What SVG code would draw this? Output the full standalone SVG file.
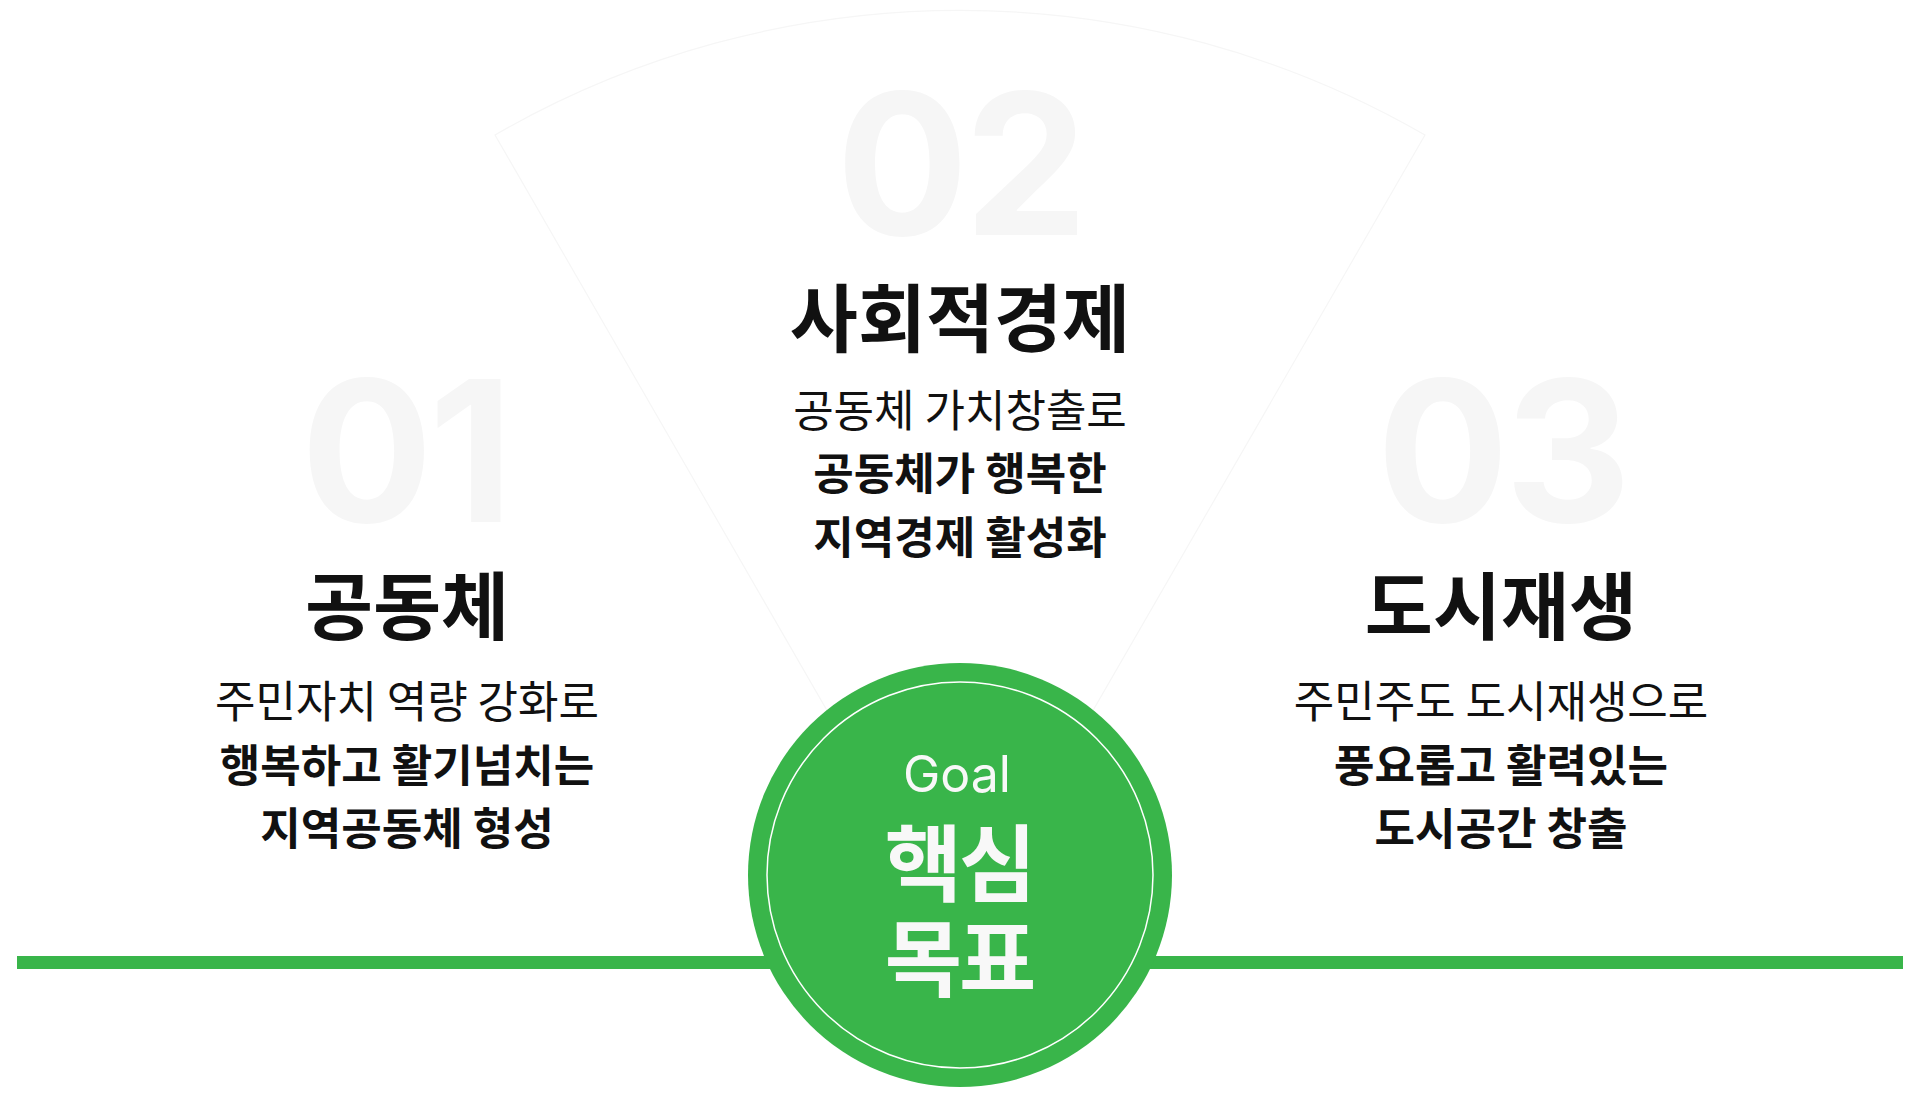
<svg xmlns="http://www.w3.org/2000/svg" width="1920" height="1098" viewBox="0 0 1920 1098">
  <style>
    .num { font-family: Inter, "Noto Sans", sans-serif; font-weight: 700; font-size: 196px; fill: #f6f6f6; text-anchor: middle; letter-spacing: -4px; }
    .title { font-family: "Noto Sans CJK KR", sans-serif; font-weight: 700; font-size: 74px; fill: #111111; text-anchor: middle; }
    .sub { font-family: "Noto Sans CJK KR", sans-serif; font-weight: 400; font-size: 44px; fill: #111111; text-anchor: middle; }
    .subb { font-family: "Noto Sans CJK KR", sans-serif; font-weight: 700; font-size: 44px; fill: #111111; text-anchor: middle; }
    .goal-en { font-family: Inter, "Noto Sans", sans-serif; font-weight: 400; font-size: 50px; fill: #f8f8f8; text-anchor: middle; }
    .goal-ko { font-family: "Noto Sans CJK KR", sans-serif; font-weight: 700; font-size: 84px; fill: #f8f8f8; text-anchor: middle; letter-spacing: -3px; }
  </style>
  <rect width="1920" height="1098" fill="#ffffff"/>
  <g id="background">
    <path d="M960 941 L495 135 A930 930 0 0 1 1425 135 Z" fill="#ffffff" stroke="#f6f6f6" stroke-width="1.2"/>
  </g>
  <g id="connectors">
    <rect x="17" y="956" width="1886" height="13" fill="#39b54a"/>
  </g>
  <g id="node-01">
    <text class="num" x="405" y="522">01</text>
    <text class="title" x="407" y="634">공동체</text>
    <text class="sub" x="407" y="718">주민자치 역량 강화로</text>
    <text class="subb" x="407" y="782">행복하고 활기넘치는</text>
    <text class="subb" x="407" y="845">지역공동체 형성</text>
  </g>
  <g id="node-02">
    <text class="num" x="960" y="235">02</text>
    <text class="title" x="960" y="346">사회적경제</text>
    <text class="sub" x="960" y="427">공동체 가치창출로</text>
    <text class="subb" x="960" y="490">공동체가 행복한</text>
    <text class="subb" x="960" y="554">지역경제 활성화</text>
  </g>
  <g id="node-03">
    <text class="num" x="1502" y="522">03</text>
    <text class="title" x="1501" y="634">도시재생</text>
    <text class="sub" x="1501" y="718">주민주도 도시재생으로</text>
    <text class="subb" x="1501" y="782">풍요롭고 활력있는</text>
    <text class="subb" x="1501" y="845">도시공간 창출</text>
  </g>
  <g id="node-goal">
    <circle cx="960" cy="875" r="212" fill="#39b54a"/>
    <circle cx="960" cy="875" r="193" fill="none" stroke="#ffffff" stroke-width="1.5"/>
    <text class="goal-en" x="957" y="792">Goal</text>
    <text class="goal-ko" x="959" y="895">핵심</text>
    <text class="goal-ko" x="959" y="990">목표</text>
  </g>
</svg>
